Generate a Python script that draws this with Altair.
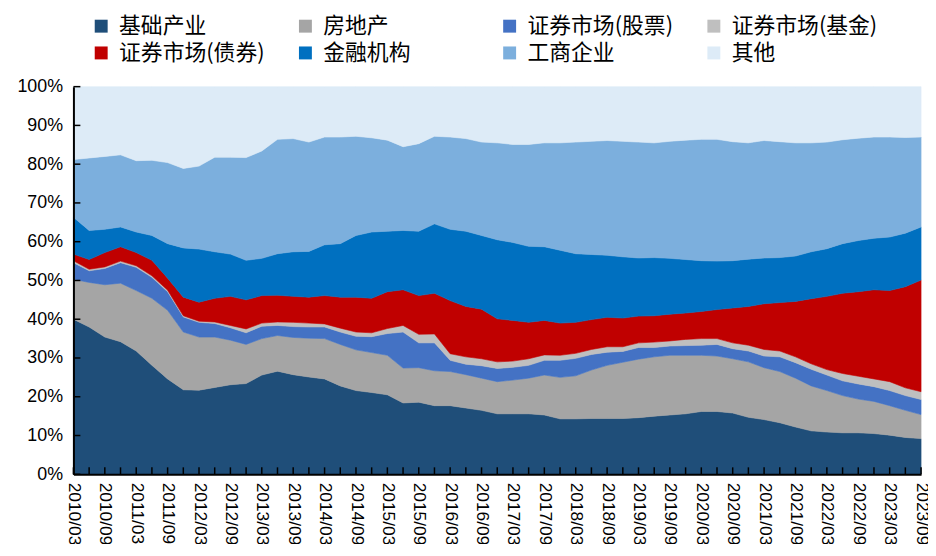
import altair as alt
import pandas as pd

quarters = [
    "2010/03", "2010/06", "2010/09", "2010/12", "2011/03", "2011/06", "2011/09", "2011/12",
    "2012/03", "2012/06", "2012/09", "2012/12", "2013/03", "2013/06", "2013/09", "2013/12",
    "2014/03", "2014/06", "2014/09", "2014/12", "2015/03", "2015/06", "2015/09", "2015/12",
    "2016/03", "2016/06", "2016/09", "2016/12", "2017/03", "2017/06", "2017/09", "2017/12",
    "2018/03", "2018/06", "2018/09", "2018/12", "2019/03", "2019/06", "2019/09", "2019/12",
    "2020/03", "2020/06", "2020/09", "2020/12", "2021/03", "2021/06", "2021/09", "2021/12",
    "2022/03", "2022/06", "2022/09", "2022/12", "2023/03", "2023/06", "2023/09",
]

series_names = ["基础产业", "房地产", "证券市场(股票)", "证券市场(基金)",
                "证券市场(债券)", "金融机构", "工商企业", "其他"]
series_colors = ["#1F4E79", "#A5A5A5", "#4472C4", "#BFBFBF",
                 "#C00000", "#0070C0", "#7CAFDD", "#DDEBF7"]

infra = [40.0, 38.0, 35.4, 34.2, 31.8, 28.1, 24.6, 21.8, 21.7, 22.4,
         23.1, 23.4, 25.6, 26.6, 25.7, 25.1, 24.6, 22.8, 21.6, 21.1,
         20.5, 18.4, 18.6, 17.7, 17.7, 17.1, 16.5, 15.6, 15.6, 15.6,
         15.3, 14.3, 14.3, 14.4, 14.4, 14.4, 14.6, 15.0, 15.3, 15.6,
         16.2, 16.2, 15.8, 14.7, 14.1, 13.3, 12.2, 11.2, 10.9, 10.7,
         10.7, 10.5, 10.1, 9.5, 9.2]
real_estate = [10.3, 11.5, 13.5, 15.1, 15.6, 17.3, 17.7, 14.9, 13.7, 13.0,
               11.5, 10.1, 9.4, 9.2, 9.6, 10.0, 10.4, 10.7, 10.5, 10.3,
               10.2, 9.0, 8.9, 9.0, 8.8, 8.6, 8.3, 8.3, 8.7, 9.2,
               10.3, 10.7, 11.1, 12.5, 13.7, 14.5, 15.1, 15.3, 15.4, 15.1,
               14.5, 14.3, 14.0, 14.3, 13.4, 13.2, 12.6, 11.6, 10.7, 9.6,
               8.7, 8.3, 7.6, 7.0, 6.2]
stocks = [4.3, 3.0, 4.2, 5.3, 6.0, 5.4, 4.8, 3.9, 3.8, 3.5,
          3.2, 3.0, 3.2, 2.6, 2.8, 2.9, 3.0, 3.2, 3.5, 4.1,
          5.6, 9.3, 6.4, 7.2, 2.9, 2.7, 3.2, 3.4, 3.3, 3.3,
          3.8, 4.4, 4.5, 4.0, 3.4, 2.8, 3.0, 2.4, 2.4, 2.5,
          2.6, 3.0, 2.6, 2.8, 3.0, 3.8, 4.0, 4.3, 4.0, 3.8,
          3.9, 3.8, 3.9, 3.8, 3.9]
funds = [0.5, 0.4, 0.4, 0.4, 0.4, 0.4, 0.4, 0.3, 0.3, 0.4,
         0.6, 1.0, 0.8, 0.9, 1.1, 1.0, 0.8, 1.0, 1.1, 1.0,
         1.3, 1.7, 2.2, 2.3, 1.7, 1.9, 1.8, 1.7, 1.6, 1.7,
         1.4, 1.3, 1.3, 1.3, 1.4, 1.2, 1.2, 1.4, 1.3, 1.6,
         1.7, 1.5, 1.5, 1.5, 1.7, 1.5, 1.5, 1.4, 1.4, 1.9,
         2.0, 2.0, 2.3, 2.0, 2.0]
bonds = [1.7, 2.5, 3.7, 3.7, 3.4, 4.0, 3.1, 4.8, 4.9, 6.1,
         7.5, 7.5, 7.1, 6.9, 6.7, 6.7, 7.3, 8.0, 9.0, 8.9,
         9.5, 9.2, 10.0, 10.5, 13.7, 13.0, 12.8, 11.1, 10.5, 9.4,
         8.9, 8.3, 8.0, 7.7, 7.6, 7.4, 6.9, 6.8, 6.9, 6.8,
         7.0, 7.5, 9.0, 10.0, 11.8, 12.5, 14.3, 16.8, 18.9, 20.7,
         21.8, 23.0, 23.5, 26.1, 28.8]
financial = [9.5, 7.5, 6.0, 5.1, 5.3, 6.4, 8.9, 12.7, 13.7, 12.0,
             10.9, 10.2, 9.6, 10.7, 11.5, 11.8, 13.1, 13.8, 15.9, 17.1,
             15.6, 15.3, 16.6, 17.9, 18.4, 19.4, 19.0, 20.4, 20.1, 19.6,
             19.0, 18.8, 17.7, 16.8, 16.0, 15.8, 15.0, 15.0, 14.4, 13.8,
             13.1, 12.5, 12.2, 12.2, 11.8, 11.6, 11.7, 12.1, 12.3, 12.8,
             13.2, 13.3, 13.8, 13.8, 13.7]
corporate = [14.9, 18.7, 18.8, 18.6, 18.4, 19.4, 20.9, 20.5, 21.4, 24.4,
             25.0, 26.5, 27.7, 29.5, 29.2, 28.2, 27.8, 27.5, 25.6, 24.3,
             23.5, 21.6, 22.6, 22.6, 23.8, 23.9, 24.1, 25.0, 25.3, 26.3,
             26.8, 27.7, 28.8, 29.2, 29.6, 29.8, 29.9, 29.6, 30.2, 30.8,
             31.3, 31.4, 30.7, 30.0, 30.3, 29.9, 29.2, 28.1, 27.5, 26.8,
             26.4, 26.1, 25.8, 24.7, 23.2]
other = [18.8, 18.4, 18.0, 17.6, 19.1, 19.0, 19.6, 21.1, 20.5, 18.2,
         18.2, 18.3, 16.6, 13.6, 13.4, 14.3, 13.0, 13.0, 12.8, 13.2,
         13.8, 15.5, 14.7, 12.8, 13.0, 13.4, 14.3, 14.5, 14.9, 14.9,
         14.5, 14.5, 14.3, 14.1, 13.9, 14.1, 14.3, 14.5, 14.1, 13.8,
         13.6, 13.6, 14.2, 14.5, 13.9, 14.2, 14.5, 14.5, 14.3, 13.7,
         13.3, 13.0, 13.0, 13.1, 13.0]

y_ticks = [0, 10, 20, 30, 40, 50, 60, 70, 80, 90, 100]

all_series = [infra, real_estate, stocks, funds, bonds, financial, corporate, other]
rows = []
for k, (name, vals) in enumerate(zip(series_names, all_series)):
    for i, v in enumerate(vals):
        rows.append({"i": i, "q": quarters[i], "series": name, "k": k, "val": v})
df = pd.DataFrame(rows)

W, H = 855, 391
n = len(quarters)
x_scale = alt.Scale(domain=[0, n - 1], nice=False, zero=False)
y_scale = alt.Scale(domain=[0, 100], nice=False)

label_expr = "[" + ",".join("'%s'" % q for q in quarters) + "][datum.value]"

x_axis = alt.Axis(values=list(range(0, n, 2)), labelExpr=label_expr, labelAngle=90,
                  labelFont="Liberation Sans", labelFontSize=17.5, labelColor="black",
                  labelPadding=8, ticks=False, tickSize=0, domainColor="black",
                  domainWidth=2, grid=False, title=None, labelOverlap=False,
                  labelBound=False, labelFlush=False, zindex=1)
y_axis = alt.Axis(values=y_ticks, labelExpr="datum.value + '%'",
                  labelFont="Liberation Sans", labelFontSize=18, labelColor="black",
                  labelPadding=11, ticks=False, tickSize=0, domainColor="black",
                  domainWidth=2, grid=False, title=None, labelOverlap=False,
                  labelFlush=False, zindex=1)

area = alt.Chart(df).mark_area(interpolate="linear", opacity=1, strokeWidth=0.6).encode(
    x=alt.X("i:Q", scale=x_scale, axis=x_axis),
    y=alt.Y("val:Q", stack="zero", scale=y_scale, axis=y_axis),
    color=alt.Color("series:N", scale=alt.Scale(domain=series_names, range=series_colors),
                    legend=alt.Legend(orient="none", legendX=17, legendY=-72, columns=4,
                                      direction="horizontal",
                                      gridAlign="all", symbolType="square", symbolSize=170,
                                      symbolStrokeWidth=0, symbolOpacity=1,
                                      labelFont="Noto Sans CJK SC", labelFontSize=22,
                                      labelColor="black", labelOffset=7, columnPadding=30,
                                      rowPadding=5, padding=0, title=None, labelLimit=400)),
    stroke=alt.Color("series:N", scale=alt.Scale(domain=series_names, range=series_colors),
                     legend=None),
    order=alt.Order("k:Q", sort="ascending"),
)

xticks = alt.Chart(pd.DataFrame({"i": list(range(n))})).mark_rule(
    color="black", strokeWidth=1.5).encode(
    x=alt.X("i:Q", scale=x_scale, axis=x_axis),
    y=alt.value(H), y2=alt.value(H - 7),
)

yticks = alt.Chart(pd.DataFrame({"val": y_ticks})).mark_rule(
    color="black", strokeWidth=1.5).encode(
    y=alt.Y("val:Q", scale=y_scale, axis=y_axis),
    x=alt.value(0), x2=alt.value(7),
)

chart = alt.layer(area, xticks, yticks).properties(
    width=W, height=H,
    autosize=alt.AutoSizeParams(type="none"),
    padding={"left": 66, "top": 77, "right": 7, "bottom": 68},
).configure_view(strokeWidth=0)

chart.save("out.html", embed_options={"renderer": "svg", "actions": False})
